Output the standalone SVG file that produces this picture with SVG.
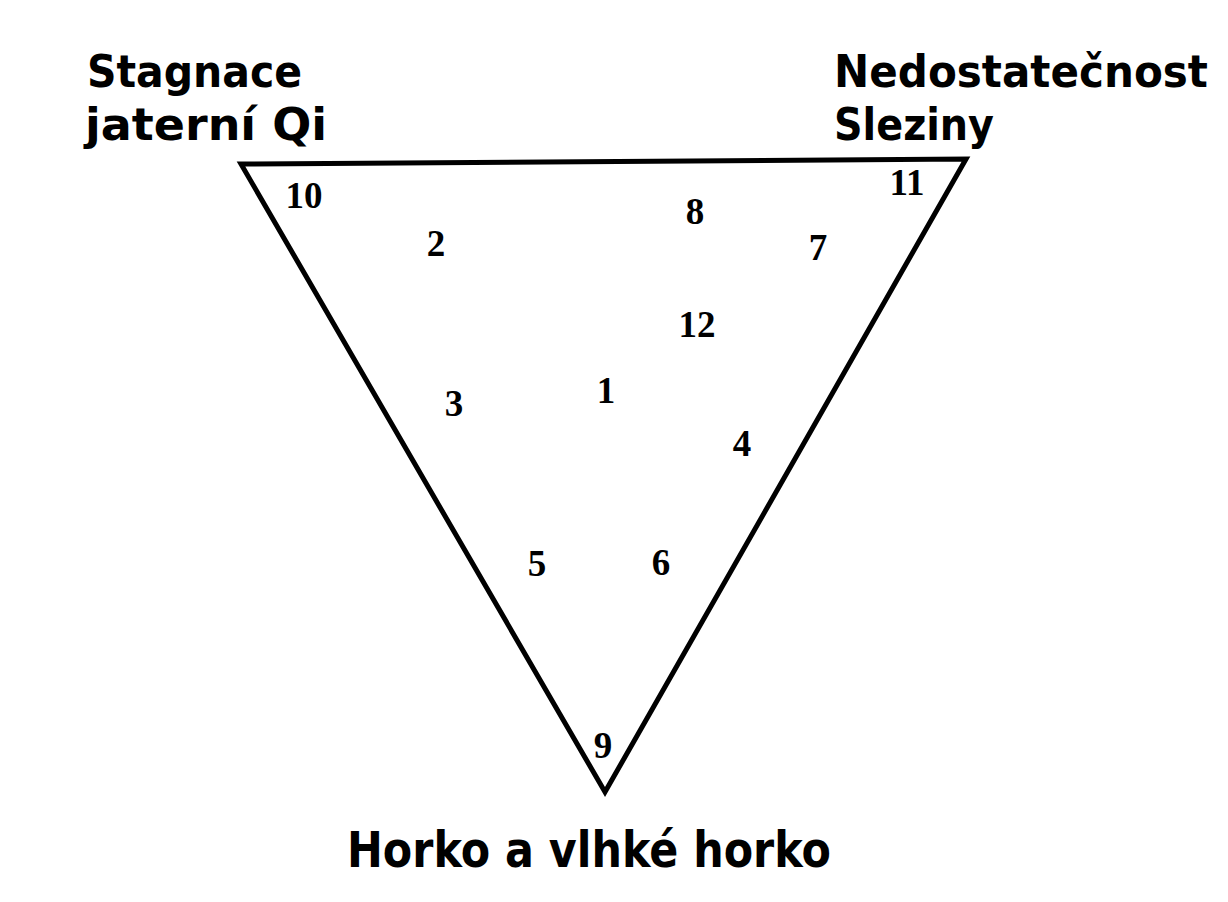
<svg xmlns="http://www.w3.org/2000/svg" width="1228" height="902" viewBox="0 0 1228 902">
<style>
.lbl{font-family:"DejaVu Sans","Liberation Sans",sans-serif;font-weight:bold;fill:#000}
.num{font-family:"Liberation Serif","DejaVu Serif",serif;font-weight:bold;fill:#000;text-anchor:middle;font-size:37px}
</style>
<rect width="1228" height="902" fill="#fff"/>
<g id="connectors">
<polygon points="241,164 966,159 605,792" fill="none" stroke="#000" stroke-width="5" stroke-linejoin="miter"/>
</g>
<g id="label-stagnace">
<text class="lbl" x="87" y="87" font-size="44" textLength="215" lengthAdjust="spacingAndGlyphs">Stagnace</text>
<text class="lbl" x="85" y="140" font-size="44" textLength="242" lengthAdjust="spacingAndGlyphs">jaterní Qi</text>
</g>
<g id="label-nedostatecnost">
<text class="lbl" x="834" y="87" font-size="44" textLength="374" lengthAdjust="spacingAndGlyphs">Nedostatečnost</text>
<text class="lbl" x="834" y="140" font-size="44" textLength="160" lengthAdjust="spacingAndGlyphs">Sleziny</text>
</g>
<g id="label-horko">
<text class="lbl" x="347" y="867" font-size="49" textLength="484" lengthAdjust="spacingAndGlyphs">Horko a vlhké horko</text>
</g>
<g id="numbers">
<text class="num" x="304" y="208">10</text>
<text class="num" x="907" y="195">11</text>
<text class="num" x="603" y="758">9</text>
<text class="num" x="436" y="256">2</text>
<text class="num" x="695" y="224">8</text>
<text class="num" x="818" y="260">7</text>
<text class="num" x="697" y="337">12</text>
<text class="num" x="606" y="403">1</text>
<text class="num" x="454" y="416">3</text>
<text class="num" x="742" y="456">4</text>
<text class="num" x="537" y="576">5</text>
<text class="num" x="661" y="575">6</text>
</g>
</svg>
